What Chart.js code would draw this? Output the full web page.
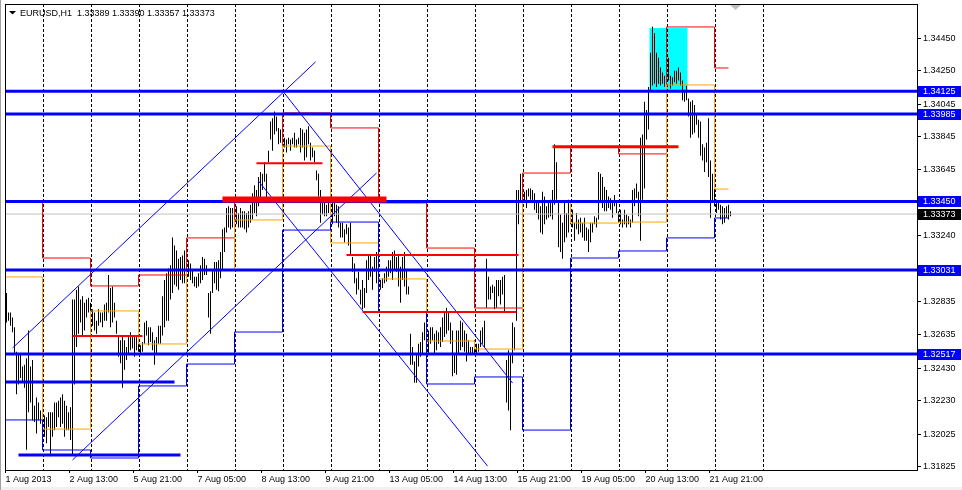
<!DOCTYPE html>
<html>
<head>
<meta charset="utf-8">
<title>EURUSD,H1</title>
<script src="https://cdn.jsdelivr.net/npm/chart.js@4.4.0/dist/chart.umd.min.js"></script>
<style>
  html, body { margin: 0; padding: 0; background: #fff; }
  #wrap { width: 962px; height: 490px; }
</style>
</head>
<body>
<div id="wrap"><canvas id="priceChart" width="962" height="490"></canvas></div>
<script>
const headerText = 'EURUSD,H1  1.33389 1.33390 1.33357 1.33373';

// time axis: one unit = one H1 bar
const timeLabels = ['1 Aug 2013', '2 Aug 13:00', '5 Aug 21:00', '7 Aug 05:00', '8 Aug 13:00', '9 Aug 21:00',
  '13 Aug 05:00', '14 Aug 13:00', '15 Aug 21:00', '19 Aug 05:00', '20 Aug 13:00', '21 Aug 21:00'];
const labelBars = [0, 32, 64, 96, 128, 160, 192, 224, 256, 288, 320, 352];
const dayBreaks = [18.5, 42.5, 66.5, 90.5, 114.5, 138.5, 162.5, 186.5, 210.5, 234.5, 258.5, 282.5, 306.5, 330.5, 354.5, 378.5];
const X_MIN = -0.75;
const X_MAX = 455.25;

const priceTicks = [1.34450, 1.34250, 1.34045, 1.33845, 1.33645, 1.33240, 1.32835, 1.32635, 1.32430, 1.32230, 1.32025, 1.31825];
const Y_MIN = 1.318066;
const Y_MAX = 1.346585;

const barHigh = [
  1.3289,1.3277,1.3277,1.3274,1.3268,1.3253,1.3251,1.3252,1.3244,1.3245,1.3249,1.3266,1.3244,1.3248,1.3220,1.3225,1.3222,1.3217,1.3216,1.3214,
  1.3213,1.3216,1.3216,1.3216,1.3222,1.3222,1.3223,1.3225,1.3227,1.3223,1.3220,1.3216,1.3219,1.3285,1.3285,1.3291,1.3293,1.3285,1.3287,1.3283,
  1.3285,1.3286,1.3283,1.3279,1.3277,1.3272,1.3279,1.3277,1.3277,1.3282,1.3283,1.3300,1.3292,1.3293,1.3283,1.3272,1.3262,1.3260,1.3263,1.3260,
  1.3256,1.3263,1.3265,1.3263,1.3262,1.3262,1.3259,1.3257,1.3259,1.3271,1.3272,1.3268,1.3268,1.3265,1.3260,1.3262,1.3269,1.3269,1.3287,1.3297,
  1.3301,1.3304,1.3306,1.3323,1.3318,1.3315,1.3310,1.3311,1.3312,1.3315,1.3317,1.3309,1.3307,1.3303,1.3299,1.3299,1.3301,1.3306,1.3311,1.3310,
  1.3306,1.3289,1.3290,1.3303,1.3308,1.3308,1.3309,1.3314,1.3328,1.3329,1.3341,1.3342,1.3341,1.3341,1.3346,1.3342,1.3338,1.3341,1.3339,1.3339,
  1.3338,1.3339,1.3343,1.3350,1.3355,1.3352,1.3360,1.3363,1.3362,1.3369,1.3362,1.3376,1.3394,1.3396,1.3400,1.3397,1.3390,1.3389,1.3387,1.3384,
  1.3383,1.3384,1.3383,1.3384,1.3387,1.3383,1.3384,1.3390,1.3389,1.3387,1.3389,1.3391,1.3381,1.3378,1.3376,1.3364,1.3362,1.3352,1.3346,1.3345,
  1.3343,1.3345,1.3344,1.3346,1.3344,1.3343,1.3342,1.3332,1.3332,1.3328,1.3331,1.3329,1.3332,1.3311,1.3307,1.3298,1.3302,1.3291,1.3297,1.3292,
  1.3309,1.3312,1.3312,1.3305,1.3311,1.3314,1.3302,1.3297,1.3298,1.3301,1.3305,1.3309,1.3309,1.3314,1.3315,1.3311,1.3312,1.3305,1.3311,1.3314,
  1.3303,1.3293,1.3264,1.3256,1.3247,1.3252,1.3258,1.3259,1.3265,1.3271,1.3268,1.3266,1.3268,1.3268,1.3264,1.3266,1.3265,1.3268,1.3274,1.3277,
  1.3280,1.3277,1.3271,1.3266,1.3252,1.3266,1.3266,1.3272,1.3271,1.3266,1.3264,1.3260,1.3256,1.3256,1.3260,1.3258,1.3258,1.3266,1.3268,1.3272,
  1.3310,1.3299,1.3293,1.3294,1.3293,1.3297,1.3297,1.3297,1.3299,1.3300,1.3248,1.3254,1.3252,1.3271,1.3268,1.3352,1.3352,1.3362,1.3359,1.3351,
  1.3352,1.3353,1.3353,1.3352,1.3350,1.3345,1.3345,1.3342,1.3351,1.3348,1.3342,1.3345,1.3346,1.3352,1.3380,1.3369,1.3344,1.3337,1.3332,1.3345,
  1.3338,1.3346,1.3342,1.3340,1.3332,1.3338,1.3334,1.3335,1.3332,1.3335,1.3329,1.3328,1.3332,1.3332,1.3336,1.3335,1.3363,1.3362,1.3360,1.3354,
  1.3352,1.3348,1.3347,1.3345,1.3349,1.3344,1.3339,1.3340,1.3334,1.3340,1.3337,1.3336,1.3334,1.3352,1.3353,1.3356,1.3351,1.3384,1.3386,1.3406,
  1.3401,1.3415,1.3436,1.3452,1.3448,1.3436,1.3433,1.3427,1.3424,1.3422,1.3425,1.3433,1.3422,1.3421,1.3425,1.3425,1.3427,1.3424,1.3419,1.3413,
  1.3416,1.3408,1.3406,1.3407,1.3404,1.3398,1.3395,1.3394,1.3380,1.3378,1.3381,1.3396,1.3370,1.3362,1.3354,1.3346,1.3345,1.3343,1.3342,1.3341,
  1.3342,1.3343,1.3339
];
const barLow = [
  1.3271,1.3272,1.3269,1.3265,1.3251,1.3227,1.3233,1.3237,1.3234,1.3231,1.3193,1.3216,1.3222,1.3211,1.3210,1.3203,1.3211,1.3209,1.3207,1.3201,
  1.3197,1.3207,1.3189,1.3201,1.3205,1.3207,1.3213,1.3207,1.3209,1.3201,1.3205,1.3205,1.3199,1.3190,1.3233,1.3256,1.3264,1.3271,1.3262,1.3266,
  1.3274,1.3277,1.3272,1.3269,1.3266,1.3264,1.3269,1.3271,1.3268,1.3272,1.3272,1.3277,1.3268,1.3271,1.3274,1.3264,1.3250,1.3246,1.3231,1.3242,
  1.3248,1.3252,1.3254,1.3255,1.3250,1.3254,1.3253,1.3252,1.3253,1.3258,1.3263,1.3257,1.3259,1.3254,1.3245,1.3252,1.3258,1.3258,1.3263,1.3268,
  1.3272,1.3272,1.3285,1.3289,1.3294,1.3293,1.3291,1.3297,1.3295,1.3295,1.3295,1.3299,1.3297,1.3295,1.3293,1.3292,1.3293,1.3295,1.3297,1.3300,
  1.3300,1.3274,1.3264,1.3289,1.3295,1.3291,1.3290,1.3298,1.3303,1.3314,1.3326,1.3329,1.3328,1.3329,1.3321,1.3331,1.3329,1.3329,1.3329,1.3328,
  1.3326,1.3329,1.3332,1.3334,1.3338,1.3336,1.3342,1.3346,1.3352,1.3357,1.3346,1.3369,1.3383,1.3376,1.3386,1.3388,1.3380,1.3381,1.3378,1.3378,
  1.3375,1.3380,1.3376,1.3380,1.3378,1.3378,1.3380,1.3375,1.3378,1.3370,1.3372,1.3380,1.3370,1.3372,1.3369,1.3358,1.3348,1.3332,1.3337,1.3336,
  1.3336,1.3338,1.3331,1.3331,1.3336,1.3332,1.3329,1.3323,1.3323,1.3320,1.3325,1.3318,1.3312,1.3302,1.3295,1.3288,1.3291,1.3282,1.3279,1.3280,
  1.3289,1.3297,1.3299,1.3291,1.3302,1.3295,1.3291,1.3291,1.3292,1.3295,1.3296,1.3299,1.3301,1.3297,1.3303,1.3302,1.3293,1.3283,1.3297,1.3293,
  1.3288,1.3288,1.3245,1.3245,1.3234,1.3234,1.3244,1.3250,1.3252,1.3260,1.3258,1.3252,1.3258,1.3260,1.3252,1.3254,1.3258,1.3256,1.3259,1.3262,
  1.3264,1.3266,1.3258,1.3238,1.3240,1.3239,1.3252,1.3254,1.3256,1.3253,1.3247,1.3252,1.3251,1.3252,1.3252,1.3251,1.3253,1.3256,1.3258,1.3256,
  1.3280,1.3285,1.3285,1.3289,1.3279,1.3280,1.3287,1.3282,1.3288,1.3277,1.3222,1.3217,1.3205,1.3246,1.3254,1.3272,1.3331,1.3345,1.3340,1.3345,
  1.3341,1.3348,1.3346,1.3344,1.3340,1.3338,1.3334,1.3326,1.3325,1.3331,1.3334,1.3335,1.3336,1.3334,1.3343,1.3346,1.3317,1.3314,1.3310,1.3320,
  1.3323,1.3326,1.3331,1.3329,1.3321,1.3328,1.3325,1.3326,1.3323,1.3321,1.3321,1.3314,1.3320,1.3326,1.3331,1.3329,1.3334,1.3345,1.3341,1.3339,
  1.3339,1.3341,1.3340,1.3335,1.3342,1.3338,1.3332,1.3331,1.3329,1.3331,1.3329,1.3331,1.3329,1.3332,1.3342,1.3347,1.3336,1.3321,1.3346,1.3353,
  1.3383,1.3389,1.3413,1.3416,1.3417,1.3415,1.3417,1.3416,1.3417,1.3415,1.3415,1.3419,1.3414,1.3416,1.3418,1.3417,1.3419,1.3416,1.3407,1.3406,
  1.3407,1.3397,1.3384,1.3386,1.3387,1.3392,1.3384,1.3373,1.3370,1.3363,1.3369,1.3360,1.3335,1.3344,1.3342,1.3338,1.3340,1.3334,1.3331,1.3332,
  1.3335,1.3334,1.3336
];
const lastPrice = 1.33373;

// previous-day high / close / low, one value per day
const pivotStart = [-0.75, 18, 42, 66, 90, 114, 138, 162, 186, 210, 234, 258, 282, 306, 330, 354];
const pivotEnd = 361;
const pivotHigh = [1.33447, 1.33104, 1.32933, 1.33000, 1.33227, 1.33459, 1.33992, 1.33900, 1.33441, 1.33165, 1.32798, 1.33624, 1.33783, 1.33741, 1.34518, 1.34267];
const pivotClose = [1.32988, 1.32057, 1.32780, 1.32578, 1.33028, 1.33337, 1.33789, 1.33196, 1.32976, 1.32596, 1.32547, 1.33455, 1.33318, 1.33324, 1.34163, 1.33526];
const pivotLow = [1.32113, 1.31929, 1.31880, 1.32321, 1.32455, 1.32651, 1.33275, 1.33324, 1.32774, 1.32333, 1.32376, 1.32051, 1.33104, 1.33147, 1.33227, 1.33349];

// horizontal levels across the whole chart
const levelPrices = [1.34125, 1.33985, 1.33450, 1.33031, 1.32517];

// short drawn levels
const redLevelPrice = [1.33684, 1.33462, 1.32627, 1.33122, 1.32774, 1.33785];
const redLevelFrom = [125, 108, 33, 170, 178, 273];
const redLevelTo = [158, 190, 68, 256, 255, 336];
const blueLevelPrice = [1.32345, 1.31898];
const blueLevelFrom = [-0.75, 6];
const blueLevelTo = [84, 87];

// channel lines
const trendFromBar = [3, 33, 138.5, 126];
const trendFromPrice = [1.32553, 1.31868, 1.34120, 1.33575];
const trendToBar = [154.5, 185, 253, 240.5];
const trendToPrice = [1.34304, 1.33624, 1.32339, 1.31831];

// highlighted zone
const zoneBars = [321.5, 340.5];
const zonePrices = [1.34511, 1.34125];

const FONT = '"Liberation Sans", Arial, sans-serif';

function segment(x1, y1, x2, y2) {
    return [{ x: x1, y: y1 }, { x: x2, y: y2 }];
}

function stepData(levels) {
    const pts = levels.map((v, i) => ({ x: pivotStart[i], y: v }));
    pts.push({ x: pivotEnd, y: levels[levels.length - 1] });
    return pts;
}

function lineSet(data, color, width, order, stepped) {
    return {
        type: 'line',
        data: data,
        borderColor: color,
        borderWidth: width,
        pointRadius: 0,
        fill: false,
        tension: 0,
        stepped: stepped || false,
        order: order
    };
}

const chartDecor = {
    id: 'chartDecor',
    beforeDatasetsDraw(chart) {
        const { ctx, chartArea: a, scales: { x, y } } = chart;
        ctx.save();
        const zx1 = x.getPixelForValue(zoneBars[0]);
        const zx2 = x.getPixelForValue(zoneBars[1]);
        const zy1 = y.getPixelForValue(zonePrices[0]);
        const zy2 = y.getPixelForValue(zonePrices[1]);
        ctx.fillStyle = '#00ffff';
        ctx.fillRect(zx1, zy1, zx2 - zx1, zy2 - zy1);

        ctx.strokeStyle = '#000';
        ctx.lineWidth = 1;
        ctx.setLineDash([3, 2]);
        dayBreaks.forEach(d => {
            const px = Math.floor(x.getPixelForValue(d)) + 0.5;
            ctx.beginPath();
            ctx.moveTo(px, a.top);
            ctx.lineTo(px, a.bottom);
            ctx.stroke();
        });
        ctx.restore();
    },
    afterDraw(chart) {
        const { ctx, chartArea: a, scales: { y } } = chart;
        ctx.save();
        // window edges
        ctx.fillStyle = '#f0f0f0';
        ctx.fillRect(0, 487, 962, 3);
        ctx.fillStyle = '#a0a0a0';
        ctx.fillRect(0, 0, 1, 490);

        // plot frame
        ctx.strokeStyle = '#000';
        ctx.lineWidth = 1;
        ctx.strokeRect(a.left + 0.5, a.top + 0.5, a.right - a.left, a.bottom - a.top);

        // header
        ctx.fillStyle = '#000';
        ctx.beginPath();
        ctx.moveTo(9, 11);
        ctx.lineTo(16, 11);
        ctx.lineTo(12.5, 14.5);
        ctx.closePath();
        ctx.fill();
        ctx.font = '9px ' + FONT;
        ctx.textBaseline = 'alphabetic';
        ctx.textAlign = 'left';
        ctx.fillText(headerText, 20, 16);

        // chart shift marker
        ctx.fillStyle = '#c0c0c0';
        ctx.beginPath();
        ctx.moveTo(730, 5);
        ctx.lineTo(741, 5);
        ctx.lineTo(735.5, 10);
        ctx.closePath();
        ctx.fill();

        // price tags on the axis
        ctx.textBaseline = 'middle';
        const tag = (p, bg) => {
            const py = Math.round(y.getPixelForValue(p));
            ctx.fillStyle = bg;
            ctx.fillRect(a.right + 1, py - 5, 962 - a.right - 2, 11);
            ctx.fillStyle = '#fff';
            ctx.fillText(p.toFixed(5), a.right + 6, py + 0.5);
        };
        levelPrices.forEach(p => tag(p, '#0000ff'));
        tag(lastPrice, '#000');
        ctx.restore();
    }
};

document.addEventListener('DOMContentLoaded', function() {
    Chart.defaults.font.family = FONT;
    Chart.defaults.font.size = 9;
    Chart.defaults.color = '#000';

    const datasets = [];
    datasets.push({
        type: 'bar',
        data: barHigh.map((h, i) => ({ x: i, y: [barLow[i], h] })),
        backgroundColor: '#000',
        borderWidth: 0,
        barThickness: 1,
        inflateAmount: 0,
        grouped: false,
        order: 20
    });
    datasets.push(lineSet(segment(X_MIN, lastPrice, X_MAX, lastPrice), '#c0c0c0', 1, 15));
    datasets.push(lineSet(stepData(pivotLow), '#0000ff', 1, 10, true));
    datasets.push(lineSet(stepData(pivotClose), '#ffa500', 1, 10, true));
    datasets.push(lineSet(stepData(pivotHigh), '#ff0000', 1, 10, true));
    trendFromBar.forEach((b, i) => {
        datasets.push(lineSet(segment(b, trendFromPrice[i], trendToBar[i], trendToPrice[i]), '#0000ff', 1, 8));
    });
    levelPrices.forEach(p => {
        datasets.push(lineSet(segment(X_MIN, p, X_MAX, p), '#0000ff', 3, 6));
    });
    blueLevelPrice.forEach((p, i) => {
        datasets.push(lineSet(segment(blueLevelFrom[i], p, blueLevelTo[i], p), '#0000ff', 3, 6));
    });
    const redWidths = [2, 6, 2, 2, 2, 3];
    redLevelPrice.forEach((p, i) => {
        datasets.push(lineSet(segment(redLevelFrom[i], p, redLevelTo[i], p), '#ff0000', redWidths[i], 4));
    });

    const ctx = document.getElementById('priceChart').getContext('2d');
    new Chart(ctx, {
        type: 'bar',
        data: { datasets: datasets },
        options: {
            responsive: false,
            animation: false,
            devicePixelRatio: 1,
            layout: { padding: { left: 5, top: 4, right: 0, bottom: 0 } },
            plugins: {
                legend: { display: false },
                tooltip: { enabled: false }
            },
            scales: {
                x: {
                    type: 'linear',
                    position: 'bottom',
                    min: X_MIN,
                    max: X_MAX,
                    offset: false,
                    afterBuildTicks: s => { s.ticks = labelBars.map(b => ({ value: b - 0.5 })); },
                    afterFit: s => { s.height = 20; s.paddingLeft = 0; s.paddingRight = 0; },
                    ticks: {
                        autoSkip: false,
                        maxRotation: 0,
                        align: 'start',
                        padding: 1,
                        callback: (v, i) => timeLabels[i]
                    },
                    grid: { display: true, offset: false, drawOnChartArea: false, drawTicks: true, tickLength: 3, color: '#000' },
                    border: { display: false }
                },
                y: {
                    type: 'linear',
                    position: 'right',
                    min: Y_MIN,
                    max: Y_MAX,
                    afterBuildTicks: s => { s.ticks = priceTicks.map(v => ({ value: v })); },
                    afterFit: s => { s.width = 45; s.paddingTop = 0; s.paddingBottom = 0; },
                    ticks: {
                        autoSkip: false,
                        padding: 2,
                        callback: v => v.toFixed(5)
                    },
                    grid: { display: true, drawOnChartArea: false, drawTicks: true, tickLength: 4, color: '#000' },
                    border: { display: false }
                }
            }
        },
        plugins: [chartDecor]
    });
});
</script>
</body>
</html>
